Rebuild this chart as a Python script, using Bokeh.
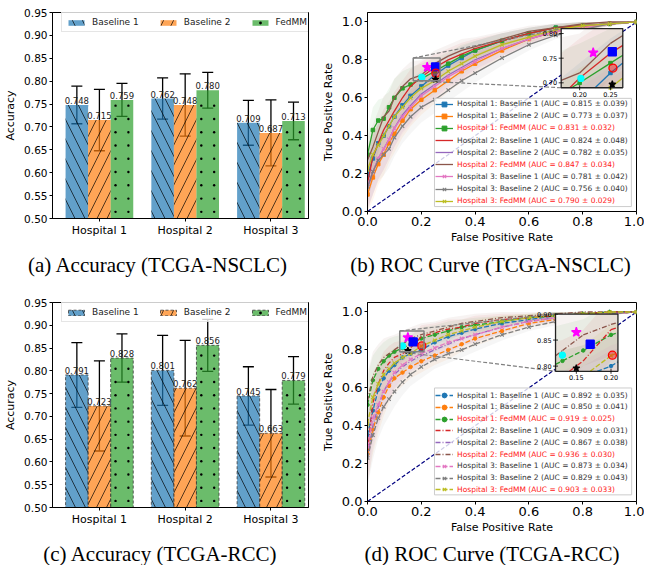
import numpy as np
from bokeh.plotting import figure
from bokeh.layouts import column, row
from bokeh.models import (Range1d, FixedTicker, PrintfTickFormatter, Legend, LegendItem,
                          ColumnDataSource, Whisker, TeeHead, Title, BoxAnnotation)
from bokeh.core.properties import value
from bokeh.embed import file_html
from bokeh.resources import INLINE

# ---------------- data ----------------
hospitals = ["Hospital 1", "Hospital 2", "Hospital 3"]
methods = ["Baseline 1", "Baseline 2", "FedMM"]
acc_ticks = [0.50, 0.55, 0.60, 0.65, 0.70, 0.75, 0.80, 0.85, 0.90, 0.95]
roc_ticks = [0.0, 0.2, 0.4, 0.6, 0.8, 1.0]

# (a) accuracy TCGA-NSCLC
nsclc_b1 = [0.748, 0.762, 0.709]
nsclc_b2 = [0.715, 0.748, 0.687]
nsclc_fed = [0.759, 0.780, 0.713]
nsclc_b1_err = [0.041, 0.045, 0.049]
nsclc_b2_err = [0.067, 0.068, 0.072]
nsclc_fed_err = [0.036, 0.039, 0.041]

# (c) accuracy TCGA-RCC
rcc_b1 = [0.791, 0.801, 0.745]
rcc_b2 = [0.723, 0.762, 0.663]
rcc_fed = [0.828, 0.856, 0.779]
rcc_b1_err = [0.071, 0.077, 0.064]
rcc_b2_err = [0.099, 0.105, 0.096]
rcc_fed_err = [0.053, 0.057, 0.052]

# ROC curves (mean TPR at FPR grid)
fpr_grid = [0.0, 0.02, 0.04, 0.06, 0.08, 0.10, 0.13, 0.16, 0.20, 0.25, 0.30, 0.35, 0.40,
            0.50, 0.60, 0.70, 0.80, 0.90, 1.0]

roc_names = ["Hospital 1: Baseline 1", "Hospital 1: Baseline 2", "Hospital 1: FedMM",
             "Hospital 2: Baseline 1", "Hospital 2: Baseline 2", "Hospital 2: FedMM",
             "Hospital 3: Baseline 1", "Hospital 3: Baseline 2", "Hospital 3: FedMM"]

# (b) TCGA-NSCLC
nsclc_h1_b1 = [0.19, 0.28, 0.36, 0.40, 0.45, 0.50, 0.56, 0.61, 0.66, 0.72, 0.77, 0.81, 0.85, 0.90, 0.94, 0.97, 0.98, 0.99, 1.0]
nsclc_h1_b2 = [0.09, 0.18, 0.25, 0.30, 0.36, 0.41, 0.48, 0.54, 0.59, 0.64, 0.69, 0.74, 0.78, 0.85, 0.91, 0.95, 0.97, 0.99, 1.0]
nsclc_h1_fed = [0.30, 0.43, 0.48, 0.49, 0.55, 0.60, 0.65, 0.67, 0.70, 0.74, 0.78, 0.82, 0.85, 0.90, 0.94, 0.97, 0.98, 0.99, 1.0]
nsclc_h2_b1 = [0.15, 0.29, 0.36, 0.43, 0.48, 0.53, 0.60, 0.66, 0.71, 0.76, 0.80, 0.83, 0.86, 0.90, 0.94, 0.97, 0.98, 0.99, 1.0]
nsclc_h2_b2 = [0.12, 0.21, 0.28, 0.33, 0.38, 0.44, 0.51, 0.56, 0.62, 0.67, 0.72, 0.76, 0.80, 0.86, 0.91, 0.95, 0.98, 0.99, 1.0]
nsclc_h2_fed = [0.27, 0.34, 0.42, 0.50, 0.53, 0.60, 0.66, 0.70, 0.72, 0.78, 0.82, 0.85, 0.87, 0.91, 0.95, 0.97, 0.99, 1.0, 1.0]
nsclc_h3_b1 = [0.14, 0.21, 0.28, 0.33, 0.38, 0.44, 0.50, 0.55, 0.61, 0.66, 0.71, 0.75, 0.79, 0.86, 0.91, 0.95, 0.97, 0.99, 1.0]
nsclc_h3_b2 = [0.13, 0.21, 0.27, 0.30, 0.33, 0.39, 0.45, 0.50, 0.55, 0.59, 0.64, 0.69, 0.73, 0.81, 0.88, 0.93, 0.96, 0.99, 1.0]
nsclc_h3_fed = [0.22, 0.30, 0.35, 0.40, 0.45, 0.50, 0.55, 0.60, 0.65, 0.69, 0.74, 0.78, 0.82, 0.88, 0.92, 0.96, 0.98, 0.99, 1.0]
nsclc_band = [0.12, 0.12, 0.11, 0.11, 0.10, 0.10, 0.09, 0.09, 0.08, 0.07, 0.06, 0.06, 0.05, 0.04, 0.03, 0.02, 0.02, 0.01, 0.0]
nsclc_auc = [0.815, 0.773, 0.831, 0.824, 0.782, 0.847, 0.781, 0.756, 0.790]
nsclc_auc_sd = [0.039, 0.037, 0.032, 0.048, 0.035, 0.034, 0.042, 0.040, 0.029]
nsclc_op_x = [0.222, 0.253, 0.254, 0.202, 0.253]
nsclc_op_y = [0.761, 0.763, 0.730, 0.709, 0.697]

# (d) TCGA-RCC
rcc_h1_b1 = [0.35, 0.48, 0.59, 0.65, 0.69, 0.72, 0.76, 0.78, 0.80, 0.84, 0.87, 0.89, 0.91, 0.94, 0.96, 0.98, 0.99, 1.0, 1.0]
rcc_h1_b2 = [0.25, 0.38, 0.47, 0.55, 0.61, 0.65, 0.68, 0.71, 0.74, 0.77, 0.80, 0.83, 0.86, 0.90, 0.94, 0.96, 0.98, 0.99, 1.0]
rcc_h1_fed = [0.51, 0.64, 0.70, 0.74, 0.77, 0.79, 0.81, 0.83, 0.86, 0.88, 0.90, 0.92, 0.93, 0.95, 0.97, 0.98, 0.99, 1.0, 1.0]
rcc_h2_b1 = [0.26, 0.52, 0.62, 0.69, 0.73, 0.76, 0.78, 0.81, 0.87, 0.89, 0.91, 0.92, 0.94, 0.96, 0.97, 0.98, 0.99, 1.0, 1.0]
rcc_h2_b2 = [0.23, 0.40, 0.50, 0.58, 0.63, 0.67, 0.71, 0.74, 0.77, 0.80, 0.83, 0.86, 0.88, 0.92, 0.95, 0.97, 0.98, 0.99, 1.0]
rcc_h2_fed = [0.53, 0.66, 0.72, 0.76, 0.78, 0.80, 0.83, 0.86, 0.88, 0.90, 0.92, 0.94, 0.95, 0.97, 0.98, 0.99, 1.0, 1.0, 1.0]
rcc_h3_b1 = [0.29, 0.44, 0.51, 0.58, 0.63, 0.68, 0.72, 0.75, 0.78, 0.81, 0.84, 0.86, 0.88, 0.92, 0.95, 0.97, 0.98, 0.99, 1.0]
rcc_h3_b2 = [0.23, 0.35, 0.44, 0.50, 0.54, 0.58, 0.63, 0.67, 0.71, 0.75, 0.78, 0.80, 0.83, 0.88, 0.92, 0.95, 0.97, 0.99, 1.0]
rcc_h3_fed = [0.41, 0.55, 0.62, 0.67, 0.70, 0.73, 0.76, 0.78, 0.82, 0.85, 0.88, 0.90, 0.92, 0.95, 0.97, 0.98, 0.99, 1.0, 1.0]
rcc_band = [0.15, 0.13, 0.11, 0.10, 0.09, 0.08, 0.07, 0.06, 0.06, 0.05, 0.05, 0.04, 0.04, 0.03, 0.02, 0.02, 0.01, 0.01, 0.0]
rcc_auc = [0.892, 0.850, 0.919, 0.909, 0.867, 0.936, 0.873, 0.829, 0.903]
rcc_auc_sd = [0.035, 0.041, 0.025, 0.031, 0.038, 0.030, 0.034, 0.043, 0.033]
rcc_op_x = [0.150, 0.170, 0.202, 0.130, 0.150]
rcc_op_y = [0.865, 0.842, 0.821, 0.821, 0.796]

diag = [0.0, 1.0]

# ---------------- styles ----------------
FONT = "DejaVu Sans"
SERIF = "Liberation Serif"
TAB = ["#1f77b4", "#ff7f0e", "#2ca02c", "#d62728", "#9467bd", "#8c564b", "#e377c2", "#7f7f7f", "#bcbd22"]
HATCH = ["\\", "/", None]          # third series uses a fine dot texture (below)
HATCH_SCALE = [20, 20, 12]
DOT_COLS = [-0.075, 0.075]         # dot texture: column offsets inside a bar (x units)
DOT_STEP = 0.029                   # dot texture: row spacing (y units)
BAR_W = 0.263
BAR_OFF = [-BAR_W, 0.0, BAR_W]
BAR_XLIM = (-0.547, 2.438)
OP_MARK = ["star", "square", "circle", "circle", "star"]
OP_COL = ["#ff00ff", "#0000ff", "#ff0000", "#00ffff", "#000000"]
OP_SIZE = [10, 8, 8, 6, 7]
CAP_SIZE = "21px"


def style_axes(p, tick_size, label_size):
    for ax in (p.xaxis[0], p.yaxis[0]):
        ax.axis_line_color = "black"
        ax.major_tick_line_color = "black"
        ax.major_tick_in = 0
        ax.major_tick_out = 3
        ax.minor_tick_line_color = None
        ax.major_label_text_font = FONT
        ax.major_label_text_font_size = tick_size
        ax.major_label_text_color = "black"
        ax.major_label_standoff = 2
        ax.axis_label_text_font = FONT
        ax.axis_label_text_font_size = label_size
        ax.axis_label_text_font_style = "normal"
        ax.axis_label_text_color = "black"
        ax.axis_label_standoff = 4
    p.xgrid.visible = False
    p.ygrid.visible = False
    p.outline_line_color = "black"
    p.outline_line_alpha = 1.0
    p.outline_line_width = 1


def caption(p, text, offset, standoff):
    p.add_layout(Title(text=text, align="left", offset=offset, standoff=standoff,
                       text_font=SERIF, text_font_size=CAP_SIZE, text_font_style="normal",
                       text_color="black"), "below")


def bar_panel(means, errs, dashed, cap, cap_off, cap_stand, frame_h, top, bottom):
    p = figure(frame_width=256, frame_height=frame_h,
               x_range=Range1d(*BAR_XLIM), y_range=Range1d(0.5, 0.95),
               output_backend="svg", toolbar_location=None,
               min_border_left=52, min_border_right=10, min_border_top=top, min_border_bottom=bottom)
    style_axes(p, "10.5px", "11px")
    p.yaxis.ticker = FixedTicker(ticks=acc_ticks)
    p.yaxis.formatter = PrintfTickFormatter(format="%.2f")
    p.yaxis.axis_label = "Accuracy"
    p.xaxis.ticker = FixedTicker(ticks=[0, 1, 2])
    p.xaxis.major_label_overrides = {i: h for i, h in enumerate(hospitals)}
    p.xaxis.major_label_text_font_size = "11px"
    items = []
    for j in range(3):
        m, e = means[j], errs[j]
        xs = [i + BAR_OFF[j] for i in range(len(m))]
        src = ColumnDataSource(dict(
            x=xs, top=m,
            upper=[a + b for a, b in zip(m, e)], lower=[a - b for a, b in zip(m, e)],
            label=[f"{v:.3f}" for v in m]))
        kw = {}
        if HATCH[j] is not None:
            kw = dict(hatch_pattern=HATCH[j], hatch_color="black", hatch_alpha=0.85,
                      hatch_scale=HATCH_SCALE[j], hatch_weight=0.8)
        r = p.vbar(x="x", top="top", bottom=0, width=BAR_W, source=src,
                   fill_color=TAB[j], fill_alpha=0.7,
                   line_color=("#3a3a3a" if dashed else None), line_dash=("3 2" if dashed else "solid"),
                   line_width=1, line_alpha=0.8, **kw)
        rr = [r]
        if HATCH[j] is None:
            # fine dot texture inside each bar, derived from the bar geometry
            tx, ty = [], []
            for xc, t in zip(xs, m):
                yy = 0.5 + DOT_STEP / 2
                while yy < t - 0.006:
                    for off in DOT_COLS:
                        tx.append(xc + off)
                        ty.append(yy)
                    yy += DOT_STEP
            d = p.scatter(tx, ty, marker="circle", size=2.4, fill_color="black", line_color=None)
            rr.append(d)
        items.append(LegendItem(label=methods[j], renderers=rr))
        p.text(x="x", y="top", text="label", source=src, text_align="center", text_baseline="bottom",
               y_offset=-1, text_font=value(FONT), text_font_size="8.5px", text_color="#1a1a1a")
        p.add_layout(Whisker(source=src, base="x", upper="upper", lower="lower",
                             line_color="black", line_width=1.3,
                             upper_head=TeeHead(size=11, line_color="black", line_width=1.3),
                             lower_head=TeeHead(size=11, line_color="black", line_width=1.3)))
    lg = Legend(items=items, orientation="horizontal", location=(9, frame_h - 20),
                padding=4, margin=0, spacing=19, glyph_width=20, glyph_height=7,
                label_height=9, label_standoff=6, label_text_font=FONT, label_text_font_size="9px",
                label_text_color="#222222", border_line_color="#cccccc", border_line_width=1,
                background_fill_alpha=0.8)
    p.add_layout(lg)
    caption(p, cap, cap_off, cap_stand)
    return p


def clip_seg(xa, ya, xb, yb, x0, x1, y0, y1):
    dx, dy = xb - xa, yb - ya
    t0, t1 = 0.0, 1.0
    for pp, qq in ((-dx, xa - x0), (dx, x1 - xa), (-dy, ya - y0), (dy, y1 - ya)):
        if pp == 0:
            if qq < 0:
                return None
        else:
            t = qq / pp
            if pp < 0:
                if t > t1:
                    return None
                t0 = max(t0, t)
            else:
                if t < t0:
                    return None
                t1 = min(t1, t)
    if t0 >= t1:
        return None
    return (xa + t0 * dx, ya + t0 * dy, xa + t1 * dx, ya + t1 * dy)


def band_breaks(xs, lo, hi, x0, x1, y0, y1):
    pts = {x0, x1}
    pts.update(x for x in xs if x0 < x < x1)
    for ys in (lo, hi):
        for i in range(len(xs) - 1):
            for lev in (y0, y1):
                a, b = ys[i] - lev, ys[i + 1] - lev
                if a * b < 0:
                    xc = xs[i] + (xs[i + 1] - xs[i]) * a / (a - b)
                    if x0 < xc < x1:
                        pts.add(xc)
    return sorted(pts)


def roc_panel(curves, band, auc, auc_sd, dashed, h1_marker, op_x, op_y,
              zoom_x, zoom_y, inset_x, inset_y, inset_xt, inset_yt,
              leg_box, leg_vy0, leg_step, cap, cap_off, cap_stand, frame_h, top, bottom):
    p = figure(frame_width=269, frame_height=frame_h,
               x_range=Range1d(0, 1), y_range=Range1d(0, 1.05),
               output_backend="svg", toolbar_location=None,
               min_border_left=45, min_border_right=8, min_border_top=top, min_border_bottom=bottom)
    style_axes(p, "13px", "11px")
    p.xaxis.ticker = FixedTicker(ticks=roc_ticks)
    p.yaxis.ticker = FixedTicker(ticks=roc_ticks)
    p.xaxis.formatter = PrintfTickFormatter(format="%.1f")
    p.yaxis.formatter = PrintfTickFormatter(format="%.1f")
    p.xaxis.axis_label = "False Positive Rate"
    p.yaxis.axis_label = "True Positive Rate"
    p.xaxis.axis_label_standoff = 2

    dashes = ["solid"] * 9
    if dashed:
        dashes = ["5 2", "5 2", "5 2", "5 2 1 2", "5 2 1 2", "5 2 1 2", "5 2", "5 2", "5 2"]
    markers = [h1_marker] * 3 + [None] * 3 + ["x"] * 3

    lows = [[max(t - b, 0.0) for t, b in zip(c, band)] for c in curves]
    highs = [[min(t + b, 1.0) for t, b in zip(c, band)] for c in curves]

    for k in range(len(curves)):
        p.varea(x=fpr_grid, y1=lows[k], y2=highs[k], fill_color=TAB[k], fill_alpha=0.07)

    p.line(diag, diag, line_color="navy", line_dash="4 2", line_width=1.2)

    def draw_marks(api, xs, ys, k):
        mk = markers[k]
        if mk is None or not xs:
            return None
        if mk == "x":
            return api.scatter(xs, ys, marker="x", size=5, line_color=TAB[k], line_width=1.1)
        return api.scatter(xs, ys, marker=mk, size=3.5, fill_color=TAB[k], line_color=TAB[k])

    rends = []
    for k, c in enumerate(curves):
        r = p.line(fpr_grid, c, line_color=TAB[k], line_width=1.3, line_dash=dashes[k])
        rr = [r]
        m = draw_marks(p, fpr_grid, c, k)
        if m is not None:
            rr.append(m)
        rends.append(rr)

    p.scatter(op_x, op_y, marker=OP_MARK, size=OP_SIZE, fill_color=OP_COL, line_color=OP_COL,
              fill_alpha=[1, 1, 0.4, 1, 1], line_width=1.3)

    # zoom rectangle + connectors
    p.quad(left=[zoom_x[0]], right=[zoom_x[1]], bottom=[zoom_y[0]], top=[zoom_y[1]],
           fill_color=None, line_color="#808080", line_width=1.5)
    p.segment(x0=[zoom_x[0], zoom_x[0]], y0=[zoom_y[1], zoom_y[0]],
              x1=[inset_x[0], inset_x[0]], y1=[inset_y[1], inset_y[0]],
              line_color="#808080", line_dash="4 2", line_width=1.2)

    # inset (zoomed view)
    ins = p.subplot(x_source=Range1d(*zoom_x), y_source=Range1d(*zoom_y),
                    x_target=Range1d(*inset_x), y_target=Range1d(*inset_y))
    x0, x1 = zoom_x
    y0, y1 = zoom_y
    ins.quad(left=[x0], right=[x1], bottom=[y0], top=[y1], fill_color="white", line_color=None)
    for k in range(len(curves)):
        bx = band_breaks(fpr_grid, lows[k], highs[k], x0, x1, y0, y1)
        lo = np.clip(np.interp(bx, fpr_grid, lows[k]), y0, y1)
        hi = np.clip(np.interp(bx, fpr_grid, highs[k]), y0, y1)
        ins.varea(x=bx, y1=list(lo), y2=list(hi), fill_color=TAB[k], fill_alpha=0.07)
    for k, c in enumerate(curves):
        segs = []
        for i in range(len(fpr_grid) - 1):
            s = clip_seg(fpr_grid[i], c[i], fpr_grid[i + 1], c[i + 1], x0, x1, y0, y1)
            if s is not None:
                segs.append(s)
        if segs:
            ins.segment(x0=[s[0] for s in segs], y0=[s[1] for s in segs],
                        x1=[s[2] for s in segs], y1=[s[3] for s in segs],
                        line_color=TAB[k], line_width=1.3, line_dash=dashes[k])
        pts = [(x, y) for x, y in zip(fpr_grid, c) if x0 <= x <= x1 and y0 <= y <= y1]
        draw_marks(ins, [q[0] for q in pts], [q[1] for q in pts], k)
    ins.scatter(op_x, op_y, marker=OP_MARK, size=OP_SIZE, fill_color=OP_COL, line_color=OP_COL,
                fill_alpha=[1, 1, 0.4, 1, 1], line_width=1.3)
    ins.quad(left=[x0], right=[x1], bottom=[y0], top=[y1], fill_color=None,
             line_color="#222222", line_width=1.3)
    ins.scatter(inset_xt, [y0] * len(inset_xt), marker="dash", angle=np.pi / 2, size=5,
                line_color="black", line_width=0.8)
    ins.scatter([x0] * len(inset_yt), inset_yt, marker="dash", size=5,
                line_color="black", line_width=0.8)
    ins.text(inset_xt, [y0] * len(inset_xt), text=[f"{t:.2f}" for t in inset_xt],
             text_align="center", text_baseline="top", y_offset=4,
             text_font=value(FONT), text_font_size="6.5px", text_color="black")
    ins.text([x0] * len(inset_yt), inset_yt, text=[f"{t:.2f}" for t in inset_yt],
             text_align="right", text_baseline="middle", x_offset=-4,
             text_font=value(FONT), text_font_size="6.5px", text_color="black")

    # legend box + per-entry legends (entries have different text colours)
    p.add_layout(BoxAnnotation(left=leg_box[0], right=leg_box[1], bottom=leg_box[2], top=leg_box[3],
                               fill_color="white", fill_alpha=0.8, line_color="#cccccc",
                               line_width=1, line_alpha=1))
    for k in range(9):
        label = f"{roc_names[k]} (AUC = {auc[k]:.3f} \u00b1 {auc_sd[k]:.3f})"
        lg = Legend(items=[LegendItem(label=label, renderers=rends[k])],
                    location=(68, leg_vy0 - k * leg_step), padding=0, margin=0, spacing=0,
                    glyph_width=18, glyph_height=12, label_height=12, label_standoff=4,
                    label_text_font=FONT, label_text_font_size="7.5px",
                    label_text_color=("#ff2020" if k % 3 == 2 else "#333333"),
                    border_line_color=None, background_fill_alpha=0)
        p.add_layout(lg)
    caption(p, cap, cap_off, cap_stand)
    return p


pa = bar_panel([nsclc_b1, nsclc_b2, nsclc_fed], [nsclc_b1_err, nsclc_b2_err, nsclc_fed_err],
               False, "(a) Accuracy (TCGA-NSCLC)", -24.5, 23, 206, 12, 67)
pb = roc_panel([nsclc_h1_b1, nsclc_h1_b2, nsclc_h1_fed, nsclc_h2_b1, nsclc_h2_b2, nsclc_h2_fed,
                nsclc_h3_b1, nsclc_h3_b2, nsclc_h3_fed], nsclc_band, nsclc_auc, nsclc_auc_sd,
               False, "square", nsclc_op_x, nsclc_op_y,
               (0.17, 0.27), (0.69, 0.81), (0.720, 0.949), (0.653, 0.965), [0.20, 0.25], [0.70, 0.75, 0.80],
               (0.249, 0.981, 0.026, 0.597), 101.3, 12.125,
               "(b) ROC Curve (TCGA-NSCLC)", -17.3, 9, 199, 12, 74)
pc = bar_panel([rcc_b1, rcc_b2, rcc_fed], [rcc_b1_err, rcc_b2_err, rcc_fed_err],
               True, "(c) Accuracy (TCGA-RCC)", -9.2, 22, 205, 14, 60)
pd = roc_panel([rcc_h1_b1, rcc_h1_b2, rcc_h1_fed, rcc_h2_b1, rcc_h2_b2, rcc_h2_fed,
                rcc_h3_b1, rcc_h3_b2, rcc_h3_fed], rcc_band, rcc_auc, rcc_auc_sd,
               True, "circle", rcc_op_x, rcc_op_y,
               (0.12, 0.21), (0.79, 0.90), (0.699, 0.931), (0.687, 0.989), [0.15, 0.20], [0.80, 0.85, 0.90],
               (0.249, 0.982, 0.035, 0.599), 100.0, 11.8,
               "(d) ROC Curve (TCGA-RCC)", -3, 7, 199, 14, 66)

layout = column(row(pa, pb), row(pc, pd))
open("out.html", "w").write(file_html(layout, INLINE))
